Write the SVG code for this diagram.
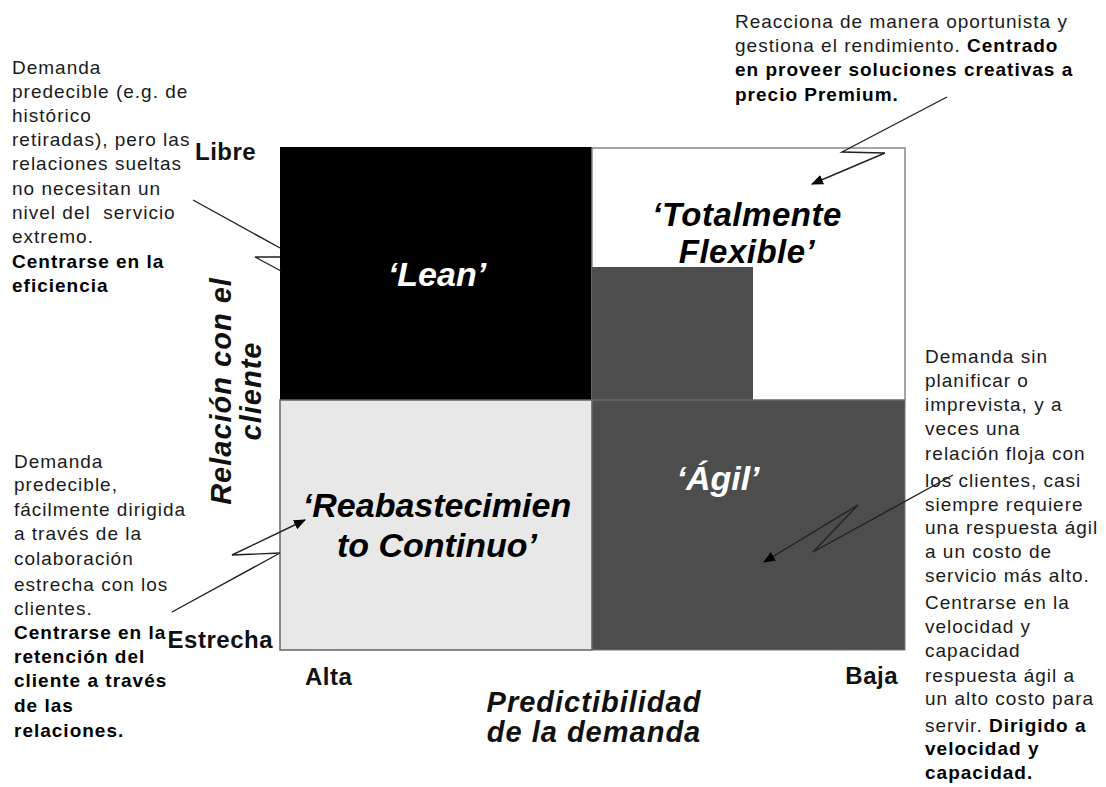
<svg xmlns="http://www.w3.org/2000/svg" width="1106" height="787" viewBox="0 0 1106 787">
  <defs>
    <marker id="arrow" viewBox="0 0 12 10" refX="11" refY="5" markerWidth="12" markerHeight="10" markerUnits="userSpaceOnUse" orient="auto">
      <path d="M0,0 L12,5 L0,10 z" fill="#000"/>
    </marker>
  </defs>
  <style>
    .note { font-family: "Liberation Sans", Arial, sans-serif; font-size: 19px; letter-spacing: 1px; fill: #1a1a1a; white-space: pre; }
    .b { font-weight: bold; fill: #000; }
    .axis { font-family: "Liberation Sans", Arial, sans-serif; font-size: 24px; font-weight: bold; fill: #111; letter-spacing: 0.5px; }
    .title { font-family: "Liberation Sans", Arial, sans-serif; font-size: 29px; font-weight: bold; font-style: italic; fill: #111; letter-spacing: 1px; }
    .quad { font-family: "Liberation Sans", Arial, sans-serif; font-size: 34px; font-weight: bold; font-style: italic; text-anchor: middle; }
    .link { fill: none; stroke: #222; stroke-width: 1.4; }
  </style>
  <rect width="1106" height="787" fill="#fff"/>

  <!-- quadrant grid -->
  <g id="lean">
    <rect x="280" y="147" width="312" height="253" fill="#000"/>
    <text class="quad" x="437" y="286" fill="#fff">‘Lean’</text>
  </g>
  <g id="totalmente-flexible">
    <rect x="592" y="148" width="313" height="252" fill="#fff" stroke="#888" stroke-width="1.5"/>
    <rect x="592" y="267" width="161" height="133" fill="#4d4d4d"/>
    <text class="quad" x="747" y="226" fill="#000" style="font-size:33px; letter-spacing:0.5px">‘Totalmente<tspan x="747" dy="37">Flexible’</tspan></text>
  </g>
  <g id="reabastecimiento">
    <rect x="280" y="400" width="312" height="250" fill="#e8e8e8" stroke="#666" stroke-width="1.5"/>
    <text class="quad" x="437" y="517" fill="#000">‘Reabastecimien<tspan x="437" dy="40">to Continuo’</tspan></text>
  </g>
  <g id="agil">
    <rect x="592" y="400" width="313" height="250" fill="#4d4d4d" stroke="#777" stroke-width="1"/>
    <text class="quad" x="718" y="490" fill="#fff">‘Ágil’</text>
  </g>

  <!-- axes -->
  <g id="eje-relacion">
    <text class="axis" x="195" y="160">Libre</text>
    <text class="axis" x="273" y="648" text-anchor="end">Estrecha</text>
    <text class="title" transform="translate(231,391) rotate(-90)" text-anchor="middle">Relación con el</text>
    <text class="title" transform="translate(261,391) rotate(-90)" text-anchor="middle">cliente</text>
  </g>
  <g id="eje-predictibilidad">
    <text class="axis" x="305" y="685">Alta</text>
    <text class="axis" x="898" y="684" text-anchor="end">Baja</text>
    <text class="title" x="594" y="712" text-anchor="middle">Predictibilidad</text>
    <text class="title" x="594" y="742" text-anchor="middle">de la demanda</text>
  </g>

  <!-- callout texts -->
  <g id="nota-lean">
    <text class="note" x="12" y="74">Demanda</text>
    <text class="note" x="12" y="98">predecible (e.g. de</text>
    <text class="note" x="12" y="122">histórico</text>
    <text class="note" x="12" y="146">retiradas), pero las</text>
    <text class="note" x="12" y="170">relaciones sueltas</text>
    <text class="note" x="12" y="195">no necesitan un</text>
    <text class="note" x="12" y="219">nivel del  servicio</text>
    <text class="note" x="12" y="243">extremo.</text>
    <text class="note b" x="12" y="268">Centrarse en la</text>
    <text class="note b" x="12" y="292">eficiencia</text>
  </g>
  <g id="nota-reabastecimiento">
    <text class="note" x="14" y="468">Demanda</text>
    <text class="note" x="14" y="491">predecible,</text>
    <text class="note" x="14" y="516">fácilmente dirigida</text>
    <text class="note" x="14" y="540">a través de la</text>
    <text class="note" x="14" y="565">colaboración</text>
    <text class="note" x="14" y="591">estrecha con los</text>
    <text class="note" x="14" y="615">clientes.</text>
    <text class="note b" x="14" y="639">Centrarse en la</text>
    <text class="note b" x="14" y="663">retención del</text>
    <text class="note b" x="14" y="687">cliente a través</text>
    <text class="note b" x="14" y="712">de las</text>
    <text class="note b" x="14" y="737">relaciones.</text>
  </g>
  <g id="nota-flexible">
    <text class="note" x="735" y="28">Reacciona de manera oportunista y</text>
    <text class="note" x="735" y="52">gestiona el rendimiento. <tspan class="b">Centrado</tspan></text>
    <text class="note b" x="735" y="76">en proveer soluciones creativas a</text>
    <text class="note b" x="735" y="101">precio Premium.</text>
  </g>
  <g id="nota-agil">
    <text class="note" x="925" y="363">Demanda sin</text>
    <text class="note" x="925" y="387">planificar o</text>
    <text class="note" x="925" y="411">imprevista, y a</text>
    <text class="note" x="925" y="435">veces una</text>
    <text class="note" x="925" y="460">relación floja con</text>
    <text class="note" x="925" y="487">los clientes, casi</text>
    <text class="note" x="925" y="511">siempre requiere</text>
    <text class="note" x="925" y="534">una respuesta ágil</text>
    <text class="note" x="925" y="558">a un costo de</text>
    <text class="note" x="925" y="582">servicio más alto.</text>
    <text class="note" x="925" y="609">Centrarse en la</text>
    <text class="note" x="925" y="633">velocidad y</text>
    <text class="note" x="925" y="657">capacidad</text>
    <text class="note" x="925" y="682">respuesta ágil a</text>
    <text class="note" x="925" y="705">un alto costo para</text>
    <text class="note" x="925" y="732">servir. <tspan class="b">Dirigido a</tspan></text>
    <text class="note b" x="925" y="755">velocidad y</text>
    <text class="note b" x="925" y="779">capacidad.</text>
  </g>

  <!-- zigzag callout connectors -->
  <g id="connectors">
    <path class="link" d="M193,200 L280,248 M280,257 L255,257 L281,271"/>
    <path class="link" d="M172,612 L280,553 L232,555 L305,520" marker-end="url(#arrow)"/>
    <path class="link" d="M947,97 L842,152 L885,153 L812,184" marker-end="url(#arrow)"/>
    <path class="link" d="M953,475 L813,552 L858,505 L764,562" stroke="#000" marker-end="url(#arrow)"/>
  </g>
</svg>
